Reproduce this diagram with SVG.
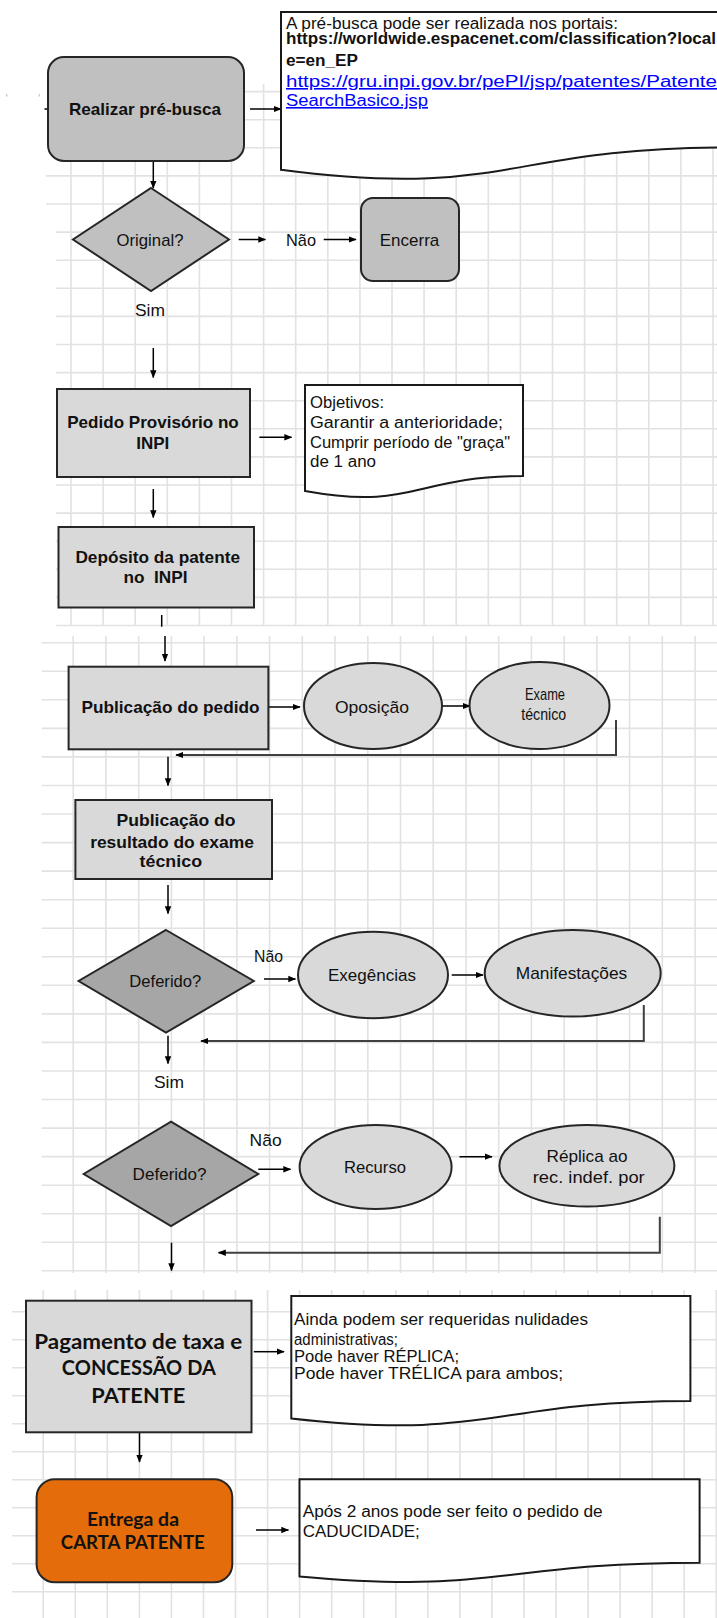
<svg xmlns="http://www.w3.org/2000/svg" width="717" height="1618" viewBox="0 0 717 1618">
<defs>
<style>
.grid{fill:none;stroke:#e2e2e2;stroke-width:1.6}
.box{stroke:#262626;stroke-width:2}
.g1{fill:#c0c0c0}
.g2{fill:#d9d9d9}
.g3{fill:#a6a6a6}
.doc{fill:#fff;stroke:#1a1a1a;stroke-width:2}
.lb{font-family:"Liberation Sans",Arial,sans-serif;font-size:17px;fill:#111;text-anchor:middle}
.b{font-weight:bold}
.nt{font-family:"Liberation Sans",Arial,sans-serif;font-size:16px;fill:#111}
.lk{fill:#0000ff;text-decoration:underline}
.cal{font-family:Lato,"Liberation Sans",sans-serif;font-weight:bold;text-anchor:middle;fill:#111}
.c{fill:none;stroke:#000;stroke-width:1.5}
.cg{fill:none;stroke:#404040;stroke-width:2}
.a{marker-end:url(#ah)}
</style>
<marker id="ah" viewBox="0 0 10 10" refX="9" refY="5" markerWidth="8" markerHeight="8" markerUnits="userSpaceOnUse" orient="auto">
<path d="M0,1 L10,5 L0,9 z" fill="#000"/>
</marker>
</defs>
<rect width="717" height="1618" fill="#fff"/>
<g id="grid">
<path class="grid" d="M71 84V626M103.1 84V626M135.2 84V626M167.3 84V626M199.4 84V626M231.5 84V626M263.6 84V626M295.7 84V626M327.8 84V626M359.9 84V626M392 84V626M424.1 84V626M456.2 84V626M488.3 84V626M520.4 84V626M552.5 84V626M584.6 84V626M616.7 84V626M648.8 84V626M680.9 84V626M713 84V626"/>
<path class="grid" d="M48 91.6H717M48 119.7H717M48 147.8H717M46 175.9H717M46 204H717M56 232.1H717M56 260.2H717M56 288.3H717M56 316.4H717M56 344.5H717M56 372.6H717M56 400.7H717M56 428.8H717M56 456.9H717M56 485H717M56 513.1H717M56 541.2H717M56 569.3H717M56 597.4H717M56 625.5H717"/>
<path class="grid" d="M73.2 636V1273M105.9 636V1273M138.7 636V1273M171.4 636V1273M204.1 636V1273M236.9 636V1273M269.6 636V1273M302.3 636V1273M335 636V1273M367.8 636V1273M400.5 636V1273M433.2 636V1273M466 636V1273M498.7 636V1273M531.4 636V1273M564.2 636V1273M596.9 636V1273M629.6 636V1273M662.3 636V1273M695.1 636V1273"/>
<path class="grid" d="M41.7 642.7H717M41.7 671.3H717M41.7 699.8H717M41.7 728.4H717M41.7 756.9H717M41.7 785.5H717M41.7 814H717M41.7 842.6H717M41.7 871.1H717M41.7 899.7H717M41.7 928.2H717M41.7 956.8H717M41.7 985.3H717M41.7 1013.9H717M41.7 1042.4H717M41.7 1071H717M41.7 1099.5H717M41.7 1128.1H717M41.7 1156.6H717M41.7 1185.2H717M41.7 1213.7H717M41.7 1242.3H717M41.7 1270.8H717"/>
<path class="grid" d="M43.2 1290V1618M75.3 1290V1618M107.3 1290V1618M139.4 1290V1618M171.4 1290V1618M203.5 1290V1618M235.5 1290V1618M267.6 1290V1618M299.6 1290V1618M331.7 1290V1618M363.7 1290V1618M395.8 1290V1618M427.8 1290V1618M459.9 1290V1618M491.9 1290V1618M524 1290V1618M556 1290V1618M588.1 1290V1618M620.1 1290V1618M652.2 1290V1618M684.2 1290V1618M716.3 1290V1618"/>
<path class="grid" d="M12 1311.7H717M12 1339.7H717M12 1367.7H717M12 1395.7H717M12 1423.7H717M12 1451.7H717M12 1479.7H717M12 1507.7H717M12 1535.7H717M12 1563.7H717M12 1591.7H717"/>
<rect x="6" y="94" width="1.5" height="2.5" fill="#cfcfcf"/>
<rect x="38.5" y="94" width="1.5" height="2.5" fill="#cfcfcf"/>
</g>
<g id="connectors">
<path class="c" d="M44.5 109H48"/>
<path class="c a" d="M250 109H281"/>
<path class="c a" d="M153.3 161V188"/>
<path class="c a" d="M238.7 239.5H265.5"/>
<path class="c a" d="M323.7 239.5H356"/>
<path class="c a" d="M153.3 348V377.5"/>
<path class="c a" d="M259.3 437.3H291.5"/>
<path class="c a" d="M153.3 489V517.5"/>
<path class="c" d="M161.7 615V626.7"/>
<path class="c a" d="M165 636V661"/>
<path class="c a" d="M268.4 707H300"/>
<path class="c a" d="M442 706H470"/>
<path class="cg a" d="M616 720V755H176"/>
<path class="c a" d="M168 756.7V785.5"/>
<path class="c a" d="M168 885V913.5"/>
<path class="c a" d="M264 979H295.5"/>
<path class="c a" d="M451.7 975H483"/>
<path class="cg a" d="M643.8 1005V1041H201"/>
<path class="c a" d="M168 1035.7V1063.5"/>
<path class="c a" d="M258.3 1169.3H290.5"/>
<path class="c a" d="M459.5 1156.7H492"/>
<path class="cg a" d="M659.8 1216.7V1252.7H218.6"/>
<path class="c a" d="M171.5 1242.7V1270.5"/>
<path class="c a" d="M253.8 1351.7H284"/>
<path class="c a" d="M139.5 1432.3V1462"/>
<path class="c a" d="M256 1530H288.5"/>
</g>
<g id="n-realizar">
<rect class="box g1" x="48" y="57" width="196" height="104" rx="16"/>
<text class="lb b" x="145" y="115" textLength="152" lengthAdjust="spacingAndGlyphs">Realizar pré-busca</text>
</g>
<g id="n-note1">
<path class="doc" d="M281 12H730V147.5C505.5 147.5 505.5 199.2 281 169.8Z"/>
<text class="nt" x="286" y="29" textLength="332" lengthAdjust="spacingAndGlyphs">A pré-busca pode ser realizada nos portais:</text>
<text class="nt b" x="286" y="44" textLength="430" lengthAdjust="spacingAndGlyphs">https://worldwide.espacenet.com/classification?local</text>
<text class="nt b" x="286" y="66" textLength="72" lengthAdjust="spacingAndGlyphs">e=en_EP</text>
<text class="nt lk" x="286" y="87" textLength="431" lengthAdjust="spacingAndGlyphs">https://gru.inpi.gov.br/pePI/jsp/patentes/Patente</text>
<text class="nt lk" x="286" y="106" textLength="142" lengthAdjust="spacingAndGlyphs">SearchBasico.jsp</text>
</g>
<g id="n-original">
<polygon class="box g1" points="151,188 229,239.5 151,291 73,239.5"/>
<text class="lb" x="150" y="245.5" textLength="67" lengthAdjust="spacingAndGlyphs">Original?</text>
</g>
<g id="l-nao1"><text class="lb" x="301" y="245.5" textLength="30" lengthAdjust="spacingAndGlyphs">Não</text></g>
<g id="n-encerra">
<rect class="box g1" x="361" y="198" width="98" height="83" rx="12"/>
<text class="lb" x="409.5" y="246" textLength="59.5" lengthAdjust="spacingAndGlyphs">Encerra</text>
</g>
<g id="l-sim1"><text class="lb" x="150" y="316" textLength="30" lengthAdjust="spacingAndGlyphs">Sim</text></g>
<g id="n-pedido">
<rect class="box g2" x="57" y="389" width="193" height="88"/>
<text class="lb b" x="153" y="428" textLength="171.5" lengthAdjust="spacingAndGlyphs">Pedido Provisório no</text>
<text class="lb b" x="152.7" y="449" textLength="33" lengthAdjust="spacingAndGlyphs">INPI</text>
</g>
<g id="n-objetivos">
<path class="doc" d="M305 385H523V476C414 476 414 510.7 305 491Z"/>
<text class="nt" x="310" y="408" textLength="74" lengthAdjust="spacingAndGlyphs">Objetivos:</text>
<text class="nt" x="310" y="428" textLength="193" lengthAdjust="spacingAndGlyphs">Garantir a anterioridade;</text>
<text class="nt" x="310" y="448" textLength="200" lengthAdjust="spacingAndGlyphs">Cumprir período de "graça"</text>
<text class="nt" x="310" y="467" textLength="66" lengthAdjust="spacingAndGlyphs">de 1 ano</text>
</g>
<g id="n-deposito">
<rect class="box g2" x="58.5" y="527" width="195.5" height="80.5"/>
<text class="lb b" x="157.7" y="563" textLength="164.6" lengthAdjust="spacingAndGlyphs">Depósito da patente</text>
<text class="lb b" x="155.5" y="583" textLength="64" lengthAdjust="spacingAndGlyphs" xml:space="preserve">no  INPI</text>
</g>
<g id="n-publicacao">
<rect class="box g2" x="68.6" y="666.7" width="199.8" height="82.6"/>
<text class="lb b" x="170.5" y="713" textLength="178" lengthAdjust="spacingAndGlyphs">Publicação do pedido</text>
</g>
<g id="n-oposicao">
<ellipse class="box g2" cx="373" cy="706" rx="69" ry="43"/>
<text class="lb" x="372" y="713" textLength="74" lengthAdjust="spacingAndGlyphs">Oposição</text>
</g>
<g id="n-exame">
<ellipse class="box g2" cx="539.5" cy="705.5" rx="70" ry="43.5"/>
<text class="lb" x="545" y="700" textLength="40" lengthAdjust="spacingAndGlyphs">Exame</text>
<text class="lb" x="543.7" y="720" textLength="45" lengthAdjust="spacingAndGlyphs">técnico</text>
</g>
<g id="n-resultado">
<rect class="box g2" x="75.4" y="800" width="196.6" height="79"/>
<text class="lb b" x="176" y="826" textLength="119" lengthAdjust="spacingAndGlyphs">Publicação do</text>
<text class="lb b" x="172" y="847.5" textLength="163.7" lengthAdjust="spacingAndGlyphs">resultado do exame</text>
<text class="lb b" x="170.8" y="866.5" textLength="62.5" lengthAdjust="spacingAndGlyphs">técnico</text>
</g>
<g id="n-deferido1">
<polygon class="box g3" points="166,930 253.8,981 166,1032.7 78.6,981"/>
<text class="lb" x="165.3" y="987" textLength="72" lengthAdjust="spacingAndGlyphs">Deferido?</text>
</g>
<g id="l-nao2"><text class="lb" x="268.5" y="962" textLength="29" lengthAdjust="spacingAndGlyphs">Não</text></g>
<g id="n-exegencias">
<ellipse class="box g2" cx="373" cy="975" rx="75" ry="43.3"/>
<text class="lb" x="372" y="981" textLength="88" lengthAdjust="spacingAndGlyphs">Exegências</text>
</g>
<g id="n-manifestacoes">
<ellipse class="box g2" cx="572.7" cy="973.3" rx="88" ry="43.3"/>
<text class="lb" x="571.5" y="978.5" textLength="111.5" lengthAdjust="spacingAndGlyphs">Manifestações</text>
</g>
<g id="l-sim2"><text class="lb" x="169" y="1087.7" textLength="30" lengthAdjust="spacingAndGlyphs">Sim</text></g>
<g id="n-deferido2">
<polygon class="box g3" points="171,1121.7 258.3,1174 171,1226 83.7,1174"/>
<text class="lb" x="169.6" y="1180" textLength="74" lengthAdjust="spacingAndGlyphs">Deferido?</text>
</g>
<g id="l-nao3"><text class="lb" x="265.6" y="1146" textLength="32" lengthAdjust="spacingAndGlyphs">Não</text></g>
<g id="n-recurso">
<ellipse class="box g2" cx="375.6" cy="1167" rx="76" ry="42"/>
<text class="lb" x="375" y="1172.7" textLength="62" lengthAdjust="spacingAndGlyphs">Recurso</text>
</g>
<g id="n-replica">
<ellipse class="box g2" cx="586.9" cy="1165.8" rx="87.5" ry="40.8"/>
<text class="lb" x="587" y="1162" textLength="81" lengthAdjust="spacingAndGlyphs">Réplica ao</text>
<text class="lb" x="588.7" y="1183.3" textLength="112" lengthAdjust="spacingAndGlyphs">rec. indef. por</text>
</g>
<g id="n-pagamento">
<rect class="box g2" x="26" y="1300.7" width="225.5" height="131.6"/>
<text class="cal" x="138.3" y="1348.5" style="font-size:21px" textLength="208" lengthAdjust="spacingAndGlyphs">Pagamento de taxa e</text>
<text class="cal" x="138.8" y="1375" style="font-size:21px" textLength="154" lengthAdjust="spacingAndGlyphs">CONCESSÃO DA</text>
<text class="cal" x="138.3" y="1402.7" style="font-size:21px" textLength="94" lengthAdjust="spacingAndGlyphs">PATENTE</text>
</g>
<g id="n-note3">
<path class="doc" d="M291.3 1296H690.4V1401C490.85 1401 490.85 1441.1 291.3 1418.4Z"/>
<text class="nt" x="294" y="1325" textLength="294" lengthAdjust="spacingAndGlyphs">Ainda podem ser requeridas nulidades</text>
<text class="nt" x="294" y="1345" textLength="104" lengthAdjust="spacingAndGlyphs">administrativas;</text>
<text class="nt" x="294" y="1362" textLength="165" lengthAdjust="spacingAndGlyphs">Pode haver RÉPLICA;</text>
<text class="nt" x="294" y="1378.5" textLength="269" lengthAdjust="spacingAndGlyphs">Pode haver TRÉLICA para ambos;</text>
</g>
<g id="n-entrega">
<rect x="36.6" y="1479.3" width="195.7" height="103" rx="18" fill="#e46c0a" stroke="#262626" stroke-width="2"/>
<text class="cal" x="133" y="1526" style="font-size:18px" textLength="92" lengthAdjust="spacingAndGlyphs">Entrega da</text>
<text class="cal" x="132.8" y="1549.3" style="font-size:18px" textLength="144" lengthAdjust="spacingAndGlyphs">CARTA PATENTE</text>
</g>
<g id="n-note4">
<path class="doc" d="M299.5 1479.3H699.6V1562.7C499.55 1562.7 499.55 1594.5 299.5 1576.4Z"/>
<text class="nt" x="302.7" y="1517" textLength="300" lengthAdjust="spacingAndGlyphs">Após 2 anos pode ser feito o pedido de</text>
<text class="nt" x="302.7" y="1536.5" textLength="117" lengthAdjust="spacingAndGlyphs">CADUCIDADE;</text>
</g>
</svg>
